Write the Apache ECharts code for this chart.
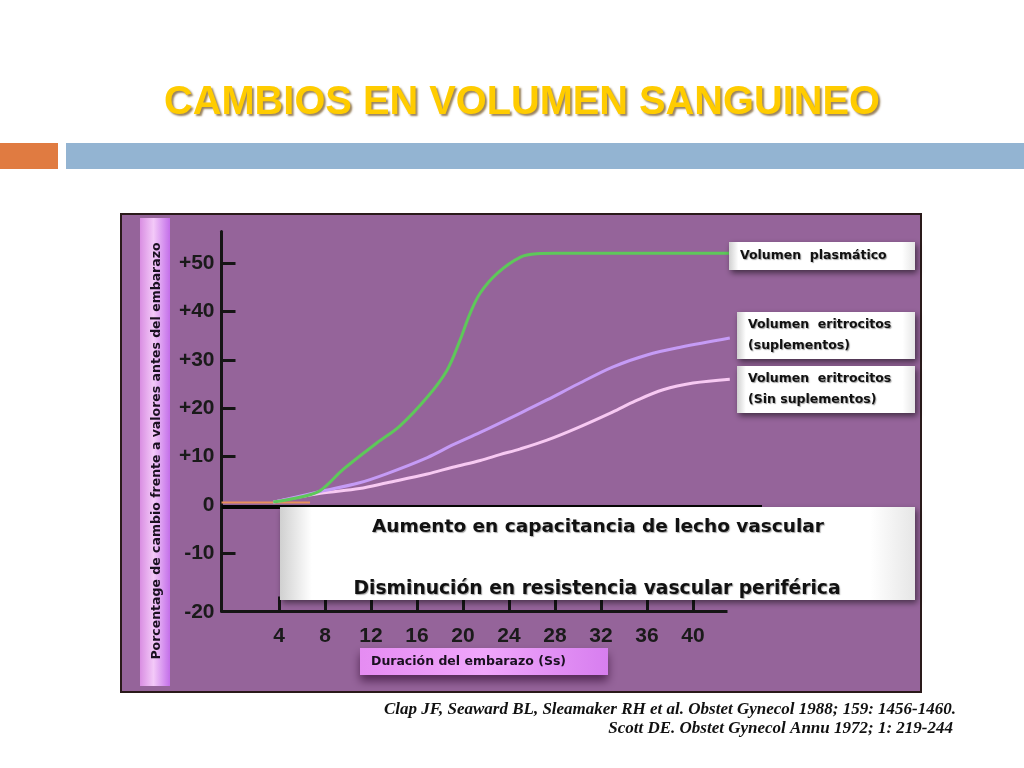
<!DOCTYPE html>
<html>
<head>
<meta charset="utf-8">
<script src="https://cdn.jsdelivr.net/npm/echarts@6/dist/echarts.min.js"></script>
<style>html,body{margin:0;padding:0;background:#fff}#c{width:1024px;height:768px}</style>
</head>
<body>
<div id="c"></div>
<script>
// ---- data ----
var plasmaWeeks  = [3.5, 6, 7.6, 9.6, 12.5, 14.5, 16.9, 18.6, 19.7, 20.6, 21.5, 23, 25, 26.4, 28, 43.2];
var plasmaValues = [0.6, 1.7, 3, 7.4, 12.8, 16.3, 22.3, 27.8, 33.8, 39.5, 43.8, 47.9, 51.2, 51.9, 52, 52];
var supWeeks     = [3.5, 7.6, 11, 13.4, 16.9, 19.1, 21.5, 25, 27.3, 30, 33, 36, 38.9, 43.2];
var supValues    = [0.6, 2.8, 4.6, 6.5, 9.8, 12.4, 15, 19, 21.7, 25, 28.5, 31, 32.6, 34.5];
var noSupWeeks   = [3.5, 7.6, 11, 13.4, 16.9, 19.1, 21.5, 23.2, 25, 27.3, 30, 33, 35, 37.4, 40, 43.2];
var noSupValues  = [0.6, 2.4, 3.4, 4.6, 6.4, 7.8, 9.2, 10.4, 11.6, 13.4, 16, 19.2, 21.5, 23.8, 25.2, 26];
var baseWeeks    = [-1, 6.7];
var baseValues   = [0.5, 0.5];
var xTicks = [4, 8, 12, 16, 20, 24, 28, 32, 36, 40];
var yTicks = [-20, -10, 0, 10, 20, 30, 40, 50];
var seriesNames = ['Volumen  plasmático', 'Volumen  eritrocitos\n(suplementos)', 'Volumen  eritrocitos\n(Sin suplementos)'];
var titleText = 'CAMBIOS EN VOLUMEN SANGUINEO';
var yTitle = 'Porcentage de cambio frente a valores antes del embarazo';
var xTitle = 'Duración del embarazo (Ss)';
var boxLine1 = 'Aumento en capacitancia de lecho vascular';
var boxLine2 = 'Disminución en resistencia vascular periférica';
var cite1 = 'Clap JF, Seaward BL, Sleamaker RH et al. Obstet Gynecol 1988; 159: 1456-1460.';
var cite2 = 'Scott DE. Obstet Gynecol Annu 1972; 1: 219-244';

function pairs(xs, ys) { return xs.map(function (x, i) { return [x, ys[i]]; }); }

var boxFont = '"DejaVu Sans", Verdana, sans-serif';
var whiteGrad = {type:'linear',x:0,y:0,x2:1,y2:0,colorStops:[{offset:0,color:'#d0d0d0'},{offset:0.05,color:'#ffffff'},{offset:0.93,color:'#ffffff'},{offset:1,color:'#e6e6e6'}]};
function labelBox(x, y, w, h, text) {
  return {
    type: 'group', z: 100,
    children: [
      {type:'rect', shape:{x:x, y:y, width:w, height:h}, style:{fill:whiteGrad, shadowBlur:6, shadowColor:'rgba(0,0,0,0.55)', shadowOffsetX:2, shadowOffsetY:3}, z:100},
      {type:'text', x:x+11, y:y+h/2, z:101, style:{text:text, font:'bold 12.5px '+boxFont, fill:'#111', verticalAlign:'middle', lineHeight:21, textShadowColor:'rgba(0,0,0,0.35)', textShadowOffsetX:1, textShadowOffsetY:1, textShadowBlur:1}}
    ]
  };
}

var chart = echarts.init(document.getElementById('c'));
chart.setOption({
  backgroundColor: '#ffffff',
  animation: false,
  grid: {left: 221.5, right: 262, top: 231.5, bottom: 156.5, containLabel: false},
  xAxis: {
    type: 'value', min: -1, max: 46,
    axisLine: {show: false, onZero: false},
    splitLine: {show: false},
    axisTick: {show: true, inside: true, length: 15, lineStyle: {color: '#151515', width: 3}, customValues: xTicks},
    axisLabel: {show: true, customValues: xTicks, margin: 14, color: '#1a1a1a', fontSize: 21, fontWeight: 'bold', fontFamily: 'Liberation Sans, Arial, sans-serif'}
  },
  yAxis: {
    type: 'value', min: -22, max: 56.5,
    axisLine: {show: true, onZero: false, lineStyle: {color: '#151515', width: 3}},
    splitLine: {show: false},
    axisTick: {show: true, inside: true, length: 14, lineStyle: {color: '#151515', width: 3}, customValues: [-10, 10, 20, 30, 40, 50]},
    axisLabel: {show: true, customValues: yTicks, margin: 7, color: '#1a1a1a', fontSize: 21, fontWeight: 'bold', fontFamily: 'Liberation Sans, Arial, sans-serif',
      formatter: function (v) { return v === -20 ? '{low|-20}' : (v > 0 ? '+' + v : String(v)); },
      rich: {low: {fontSize: 21, fontWeight: 'bold', color: '#1a1a1a', fontFamily: 'Liberation Sans, Arial, sans-serif', padding: [20, 0, 0, 0]}}}
  },
  series: [
    {type: 'line', name: 'base', data: pairs(baseWeeks, baseValues), showSymbol: false, symbol: 'none', lineStyle: {color: '#e8905a', width: 2}, z: 3,
     markLine: {silent: true, symbol: 'none', label: {show: false}, animation: false,
       data: [
         [{coord: [-1, -0.3], lineStyle: {color: '#050505', width: 4, type: 'solid'}}, {coord: [46, -0.3]}],
         [{coord: [-1, -22], lineStyle: {color: '#151515', width: 3, type: 'solid'}}, {coord: [43, -22]}]
       ]}},
    {type: 'line', name: seriesNames[2], data: pairs(noSupWeeks, noSupValues), smooth: 0.35, showSymbol: false, symbol: 'none', lineStyle: {color: '#f7c9f2', width: 3}, z: 4},
    {type: 'line', name: seriesNames[1], data: pairs(supWeeks, supValues), smooth: 0.35, showSymbol: false, symbol: 'none', lineStyle: {color: '#c59bf6', width: 3}, z: 5},
    {type: 'line', name: seriesNames[0], data: pairs(plasmaWeeks, plasmaValues), smooth: 0.35, showSymbol: false, symbol: 'none', lineStyle: {color: '#5ec85a', width: 3}, z: 6}
  ],
  graphic: [
    // slide decorations
    {type: 'text', x: 522, y: 103, scaleX: 0.97, z: 10, style: {text: titleText, font: 'bold 41px "Liberation Sans", Arial, sans-serif', fill: '#FFCC00', align: 'center', verticalAlign: 'middle', textShadowColor: 'rgba(120,90,40,0.75)', textShadowOffsetX: 2, textShadowOffsetY: 2, textShadowBlur: 2}},
    {type: 'rect', shape: {x: 0, y: 143, width: 58, height: 26}, style: {fill: '#E07B41'}, z: 10},
    {type: 'rect', shape: {x: 66, y: 143, width: 958, height: 26}, style: {fill: '#93B4D2'}, z: 10},
    // chart panel
    {type: 'rect', shape: {x: 121, y: 214, width: 800, height: 478}, style: {fill: '#95649A', stroke: '#2a1a1a', lineWidth: 2}, z: -10},
    // y axis title band
    {type: 'rect', shape: {x: 140, y: 218, width: 30, height: 468}, z: 10,
     style: {fill: {type: 'linear', x: 0, y: 0, x2: 1, y2: 0, colorStops: [{offset: 0, color: '#d98ee2'}, {offset: 0.45, color: '#f3c9f8'}, {offset: 1, color: '#c36fe9'}]}}},
    {type: 'text', x: 157, y: 451, rotation: Math.PI / 2, z: 11,
     style: {text: yTitle, font: 'bold 12.5px ' + boxFont, fill: '#1a1020', align: 'center', verticalAlign: 'middle'}},
    // x axis title band
    {type: 'rect', shape: {x: 360, y: 648, width: 248, height: 27}, z: 10,
     style: {fill: {type: 'linear', x: 0, y: 0, x2: 1, y2: 0, colorStops: [{offset: 0, color: '#e58cf2'}, {offset: 0.5, color: '#f0a6fb'}, {offset: 1, color: '#d77eef'}]}, shadowBlur: 10, shadowColor: 'rgba(40,0,40,0.6)', shadowOffsetY: 6}},
    {type: 'text', x: 371, y: 662, z: 11, style: {text: xTitle, font: 'bold 12.5px ' + boxFont, fill: '#1a1020', verticalAlign: 'middle', textShadowColor: 'rgba(0,0,0,0.3)', textShadowOffsetX: 1, textShadowOffsetY: 1}},
    // series labels
    labelBox(729, 242, 186, 28, seriesNames[0]),
    labelBox(737, 312, 178, 47, seriesNames[1]),
    labelBox(737, 366, 178, 47, seriesNames[2]),
    // big annotation box
    {type: 'rect', shape: {x: 280, y: 507, width: 635, height: 93}, z: 100,
     style: {fill: whiteGrad, shadowBlur: 6, shadowColor: 'rgba(0,0,0,0.5)', shadowOffsetX: 2, shadowOffsetY: 3}},
    {type: 'text', x: 598, y: 527, z: 101, style: {text: boxLine1, font: 'bold 18.5px ' + boxFont, fill: '#111', align: 'center', verticalAlign: 'middle', textShadowColor: 'rgba(0,0,0,0.35)', textShadowOffsetX: 1, textShadowOffsetY: 1, textShadowBlur: 1}},
    {type: 'text', x: 597, y: 589, z: 101, style: {text: boxLine2, font: 'bold 18.7px ' + boxFont, fill: '#111', align: 'center', verticalAlign: 'middle', textShadowColor: 'rgba(0,0,0,0.35)', textShadowOffsetX: 1, textShadowOffsetY: 1, textShadowBlur: 1}},
    // citations
    {type: 'text', x: 956, y: 710, z: 10, style: {text: cite1, font: 'italic bold 17px "Liberation Serif", "Times New Roman", serif', fill: '#111', align: 'right', verticalAlign: 'middle'}},
    {type: 'text', x: 953, y: 729, z: 10, style: {text: cite2, font: 'italic bold 17px "Liberation Serif", "Times New Roman", serif', fill: '#111', align: 'right', verticalAlign: 'middle'}}
  ]
});
</script>
</body>
</html>
